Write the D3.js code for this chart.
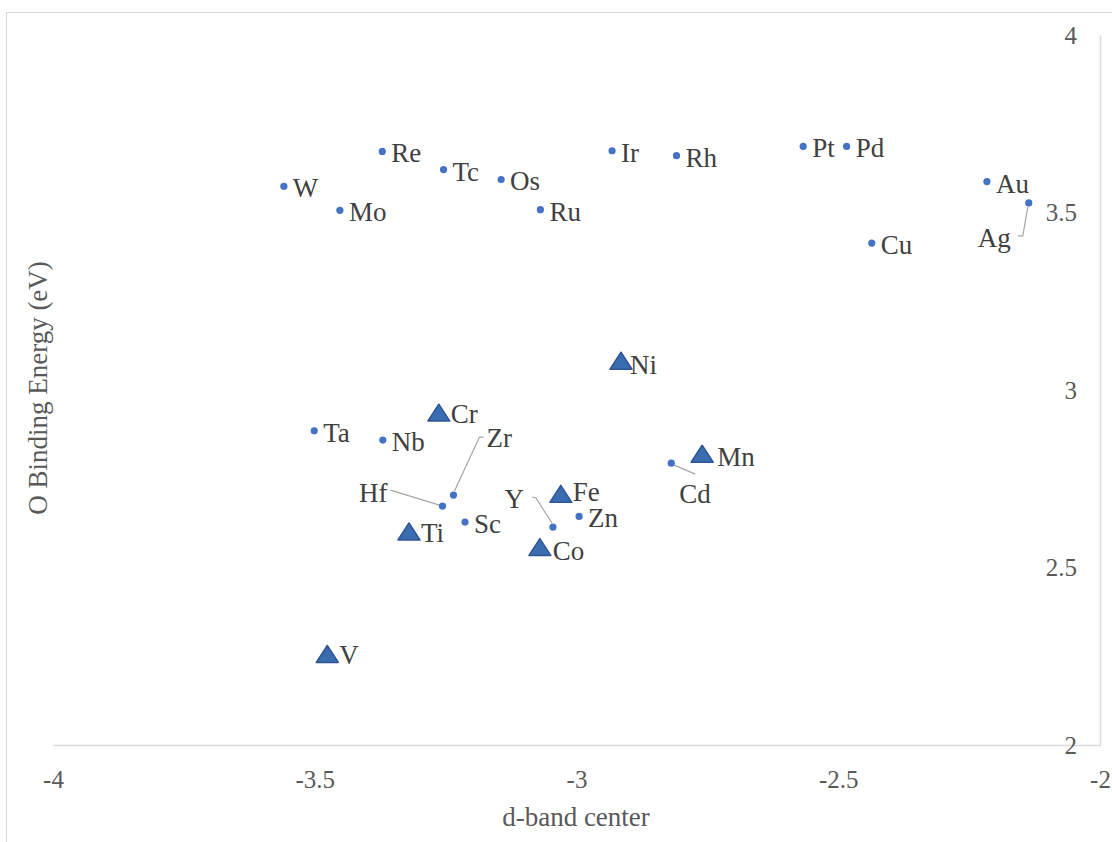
<!DOCTYPE html>
<html>
<head>
    <meta charset="utf-8">
    <title>O Binding Energy vs d-band center</title>
    <script src="https://d3js.org/d3.v7.min.js"></script>
    <style>
        body { margin: 0; background: #fff; }
        svg { display: block; background: #fff; }
        svg text { font-family: "Liberation Serif", "Tinos", "Times New Roman", Times, "DejaVu Serif", serif; }
        .tick text { font-size: 25px; fill: #595959; }
        .domain { stroke: #d9d9d9; stroke-width: 1.5px; }
        .label { font-size: 27px; fill: #404040; }
        .title { font-size: 27px; fill: #595959; }
    </style>
</head>
<body>
    <svg width="1112" height="842"></svg>
    <script>
        // data: round markers
        const dotNames = ['W', 'Mo', 'Re', 'Tc', 'Os', 'Ru', 'Ir', 'Rh', 'Pt', 'Pd', 'Au', 'Ag', 'Cu',
                          'Ta', 'Nb', 'Zr', 'Hf', 'Sc', 'Y', 'Zn', 'Cd'];
        const dotDband = [-3.559, -3.452, -3.371, -3.254, -3.144, -3.069, -2.932, -2.809, -2.567, -2.484, -2.216, -2.136, -2.436,
                          -3.501, -3.370, -3.235, -3.256, -3.213, -3.045, -2.995, -2.819];
        const dotEnergy = [3.574, 3.506, 3.672, 3.621, 3.593, 3.508, 3.674, 3.660, 3.686, 3.686, 3.587, 3.527, 3.414,
                           2.885, 2.859, 2.704, 2.673, 2.628, 2.614, 2.644, 2.794];

        // data: triangle markers
        const triNames = ['Ni', 'Cr', 'Mn', 'Fe', 'Ti', 'Co', 'V'];
        const triDband = [-2.915, -3.263, -2.760, -3.030, -3.320, -3.070, -3.476];
        const triEnergy = [3.081, 2.935, 2.819, 2.706, 2.600, 2.556, 2.255];

        const xTicks = [-4, -3.5, -3, -2.5, -2];
        const yTicks = [2, 2.5, 3, 3.5, 4];

        const svg = d3.select("svg");

        const x = d3.scaleLinear().domain([-4, -2]).range([53, 1100]);
        const y = d3.scaleLinear().domain([2, 4]).range([745, 35]);

        // chart area border (left and top edges visible)
        svg.append("path")
            .attr("d", "M6.5,842V12.5H1112")
            .attr("fill", "none")
            .attr("stroke", "#d9d9d9")
            .attr("stroke-width", 1.2);

        // plain hyphen for negatives, like the original
        const fmt = d => String(d);

        // x axis
        const xAxis = svg.append("g")
            .attr("transform", `translate(0,${y(2)})`)
            .call(d3.axisBottom(x).tickValues(xTicks).tickSize(0).tickPadding(25).tickFormat(fmt));

        // y axis crosses at x = -2, labels on the inside
        const yAxis = svg.append("g")
            .attr("transform", `translate(${x(-2)},0)`)
            .call(d3.axisLeft(y).tickValues(yTicks).tickSize(0).tickPadding(23).tickFormat(fmt));

        svg.selectAll("g").attr("font-family", null).attr("font-size", null);

        // axis titles
        svg.append("text")
            .attr("class", "title")
            .attr("x", 576)
            .attr("y", 826)
            .attr("text-anchor", "middle")
            .text("d-band center");

        svg.append("text")
            .attr("class", "title")
            .attr("transform", "translate(47,388) rotate(-90)")
            .attr("text-anchor", "middle")
            .text("O Binding Energy (eV)");

        const dots = dotNames.map((n, i) => ({name: n, x: dotDband[i], y: dotEnergy[i]}));
        const tris = triNames.map((n, i) => ({name: n, x: triDband[i], y: triEnergy[i]}));

        // callout labels: offset of label and leader line, in px from the marker
        const callouts = {
            Zr: {dx: 33, dy: -48, anchor: "start", leader: [[1, -4], [26, -58], [30, -58]]},
            Hf: {dx: -55, dy: -4, anchor: "end", leader: [[-52, -16], [-3, -1]]},
            Y:  {dx: -29, dy: -19, anchor: "end", leader: [[-21, -30], [-17, -29], [-1, -4]]},
            Cd: {dx: 8, dy: 40, anchor: "start", leader: [[3, 2], [24, 11]]},
            Ag: {dx: -18, dy: 44, anchor: "end", leader: [[-1, 4], [-6, 33], [-11, 33]]}
        };
        const triNudge = {Ni: [9, 13], Mn: [15, 12], Fe: [12, 7], Co: [13, 12]};

        // leader lines
        svg.append("g").selectAll("path")
            .data(dots.filter(d => callouts[d.name]))
            .join("path")
            .attr("d", d => d3.line()(callouts[d.name].leader.map(p => [x(d.x) + p[0], y(d.y) + p[1]])))
            .attr("fill", "none")
            .attr("stroke", "#a6a6a6")
            .attr("stroke-width", 1.2);

        // round markers
        svg.append("g").selectAll("circle")
            .data(dots)
            .join("circle")
            .attr("cx", d => x(d.x))
            .attr("cy", d => y(d.y))
            .attr("r", 3.6)
            .attr("fill", "#4472c4");

        // triangle markers
        const tri = "M0,-9L11,8L-11,8Z";
        svg.append("g").selectAll("path")
            .data(tris)
            .join("path")
            .attr("d", tri)
            .attr("transform", d => `translate(${x(d.x)},${y(d.y)})`)
            .attr("fill", "#3a6db0")
            .attr("stroke", "#2f5597")
            .attr("stroke-width", 1.5)
            .attr("stroke-linejoin", "round");

        // labels
        svg.append("g").selectAll("text")
            .data(dots)
            .join("text")
            .attr("class", "label")
            .attr("x", d => x(d.x) + (callouts[d.name] ? callouts[d.name].dx : 9))
            .attr("y", d => y(d.y) + (callouts[d.name] ? callouts[d.name].dy : 11))
            .attr("text-anchor", d => callouts[d.name] ? callouts[d.name].anchor : "start")
            .text(d => d.name);

        svg.append("g").selectAll("text")
            .data(tris)
            .join("text")
            .attr("class", "label")
            .attr("x", d => x(d.x) + (triNudge[d.name] ? triNudge[d.name][0] : 12))
            .attr("y", d => y(d.y) + (triNudge[d.name] ? triNudge[d.name][1] : 10))
            .text(d => d.name);
    </script>
</body>
</html>
